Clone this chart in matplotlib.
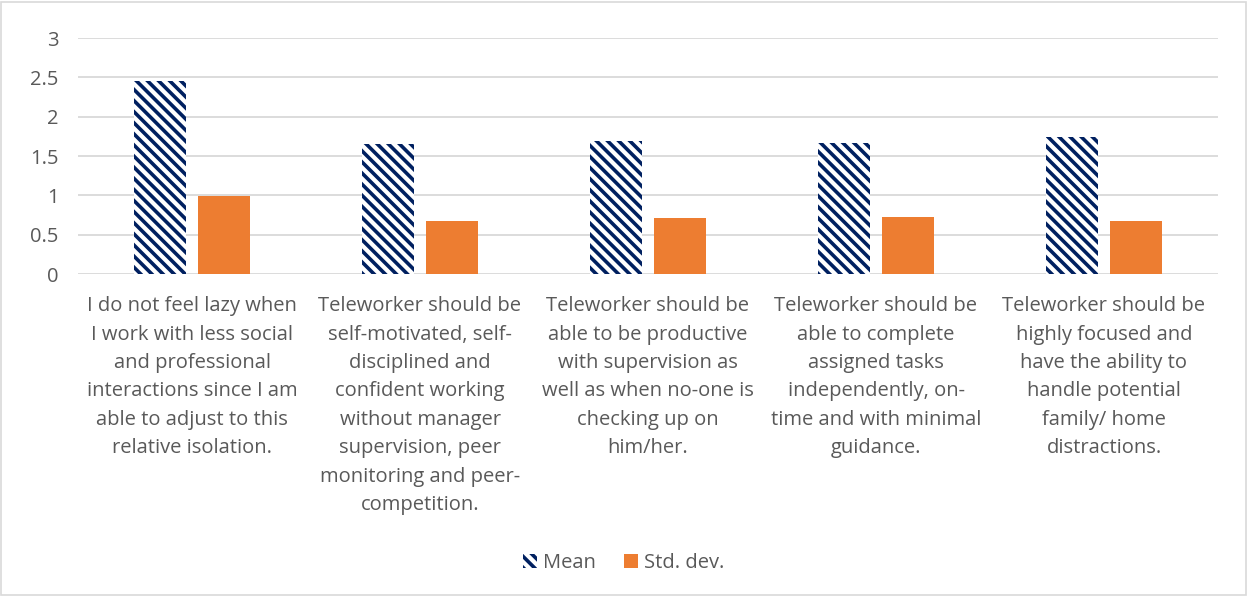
import matplotlib
matplotlib.use('Agg')

import matplotlib.pyplot as plt
import numpy as np

# Survey statements (wrapped as displayed under each group)
categories = [
    "I do not feel lazy when\nI work with less social\nand professional\ninteractions since I am\nable to adjust to this\nrelative isolation.",
    "Teleworker should be\nself-motivated, self-\ndisciplined and\nconfident working\nwithout manager\nsupervision, peer\nmonitoring and peer-\ncompetition.",
    "Teleworker should be\nable to be productive\nwith supervision as\nwell as when no-one is\nchecking up on\nhim/her.",
    "Teleworker should be\nable to complete\nassigned tasks\nindependently, on-\ntime and with minimal\nguidance.",
    "Teleworker should be\nhighly focused and\nhave the ability to\nhandle potential\nfamily/ home\ndistractions.",
]
mean_vals = [2.45, 1.65, 1.69, 1.66, 1.74]
std_vals = [0.99, 0.67, 0.71, 0.72, 0.67]
y_ticks = [0, 0.5, 1, 1.5, 2, 2.5, 3]

NAVY = "#002060"
ORANGE = "#ED7D31"
GRID = "#D9D9D9"
TEXT = "#595959"

plt.rcParams['font.family'] = ['Open Sans', 'DejaVu Sans']
plt.rcParams['hatch.linewidth'] = 2.6
plt.rcParams['hatch.color'] = NAVY

fig = plt.figure(figsize=(12.48, 5.96), dpi=100)
ax = fig.add_axes([78 / 1248, 1 - 274 / 596, (1218 - 78) / 1248, (274 - 38) / 596])

x = np.arange(len(categories))
w = 0.228
gap = 0.052
ax.bar(x - (w + gap) / 2, mean_vals, width=w, color="white", edgecolor=NAVY,
       linewidth=0, hatch="\\\\\\", label="Mean", zorder=3)
ax.bar(x + (w + gap) / 2, std_vals, width=w, color=ORANGE, linewidth=0,
       label="Std. dev.", zorder=3)

ax.set_xlim(-0.5, len(categories) - 0.5)
ax.set_ylim(0, 3)
ax.set_yticks(y_ticks)
ax.set_yticklabels([f"{t:g}" for t in y_ticks], color=TEXT, fontsize=14.5)
ax.yaxis.grid(True, color=GRID, linewidth=1.3, zorder=0)
ax.set_axisbelow(True)
for s in ax.spines.values():
    s.set_visible(False)
ax.tick_params(axis='y', length=0, pad=14)
ax.tick_params(axis='x', length=0, pad=16)
ax.set_xticks(x)
ax.set_xticklabels(categories, color=TEXT, fontsize=14.5, linespacing=1.56, va='top')

leg = fig.legend(loc='center', bbox_to_anchor=(0.5, 1 - 563 / 596), ncol=2, frameon=False,
                 fontsize=14.5, handlelength=0.7, handleheight=0.7, handletextpad=0.3,
                 columnspacing=1.4, labelcolor=TEXT)

# light outer border
fig.patches.append(plt.Rectangle((0.001, 0.002), 0.997, 0.995, transform=fig.transFigure,
                                 fill=False, edgecolor=GRID, linewidth=1.2))

fig.savefig("out.png", dpi=100)
